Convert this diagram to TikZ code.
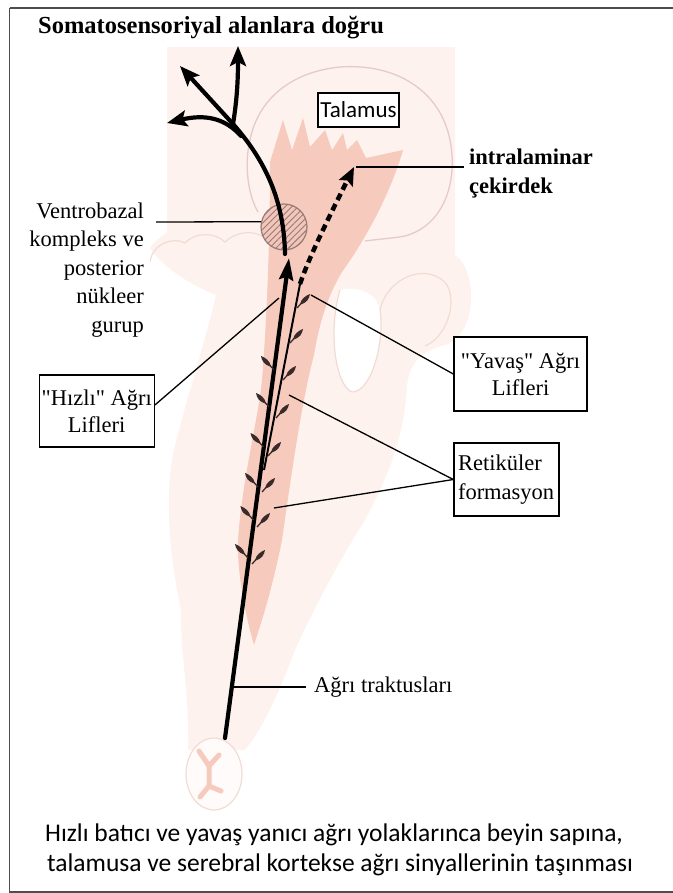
\documentclass[tikz,border=0pt]{standalone}
\usepackage{fontspec}
\setmainfont{Liberation Serif}[Ligatures=TeXOff]
\newfontfamily\calfont{Carlito}
\usetikzlibrary{arrows.meta,patterns.meta,calc}

\definecolor{stemc}{HTML}{FDF2ED}
\definecolor{tractc}{HTML}{F6CBBE}
\definecolor{rimc}{HTML}{E6CACA}
\definecolor{lobec}{HTML}{F1DCD4}
\definecolor{hatchc}{HTML}{9A7A75}
\definecolor{nucc}{HTML}{F2C6BA}
\definecolor{leafc}{HTML}{3A2A2A}
\definecolor{framec}{HTML}{4D4D4D}

\begin{document}
\begin{tikzpicture}[x=1pt,y=-1pt,
  lbl/.style={font=\fontsize{22.5}{28.5}\selectfont, inner sep=0pt},
  callbox/.style={draw=black, line width=1.4pt, fill=white, inner sep=0pt,
    font=\fontsize{22.5}{27}\selectfont},
  callout/.style={line width=1.3pt, black},
  fiber/.style={line width=4.2pt, black, line cap=round},
  bigtip/.style={-{Stealth[length=20pt,width=16pt,inset=4pt]}},
  rim/.style={draw=rimc, line width=1.3pt},
  captxt/.style={inner sep=0pt, anchor=west, font=\calfont\fontsize{25.5}{30}\selectfont}
]
\useasboundingbox (0,0) rectangle (672,893);

% ---------- brainstem silhouette ----------
\fill[stemc] (167,47) -- (455,47) -- (455,255)
  .. controls (478,270) and (478,335) .. (445,345)
  .. controls (425,350) and (410,360) .. (407,385)
  .. controls (405,430) and (392,470) .. (365,520)
  .. controls (340,560) and (318,600) .. (295,650)
  .. controls (280,690) and (265,725) .. (245,750)
  -- (188,750)
  .. controls (190,700) and (180,650) .. (181,610)
  .. controls (168,550) and (165,490) .. (174,450)
  .. controls (186,400) and (203,350) .. (216,295)
  .. controls (190,285) and (160,265) .. (150,248)
  .. controls (155,240) and (163,236) .. (167,232) -- cycle;

% gap between the peduncles
\fill[white] (340,290) .. controls (328,330) and (335,385) .. (352,392)
  .. controls (372,392) and (385,340) .. (380,310)
  .. controls (378,295) and (360,285) .. (340,290);
\draw[lobec, line width=1.2pt] (340,290) .. controls (328,330) and (335,385) .. (352,392)
  .. controls (372,392) and (385,340) .. (380,310);
\draw[lobec, line width=1.2pt] (380,310) .. controls (388,275) and (430,262) .. (447,285)
  .. controls (458,305) and (445,338) .. (425,346);
\draw[lobec, line width=1.2pt] (150,262) .. controls (152,245) and (172,236) .. (185,243)
  .. controls (195,232) and (215,232) .. (225,242)
  .. controls (235,232) and (252,230) .. (262,236);

% ---------- pain tract area ----------
\fill[tractc] (270,162) -- (283,120) -- (292,150) -- (303,118) -- (310,147)
  -- (325,130) -- (332,150) -- (343,133) -- (347,150) -- (357,140)
  -- (366,158) -- (403,150)
  .. controls (390,195) and (365,240) .. (342,272)
  .. controls (326,298) and (318,330) .. (314,355)
  .. controls (302,400) and (292,470) .. (282,540)
  .. controls (272,590) and (262,620) .. (254,645)
  .. controls (244,610) and (237,570) .. (238,540)
  .. controls (242,480) and (258,420) .. (262,380)
  .. controls (266,330) and (270,250) .. (270,162) -- cycle;

% thalamus outline
\draw[rim] (258,212) .. controls (248,195) and (244,165) .. (250,140)
  .. controls (258,100) and (290,72) .. (340,67)
  .. controls (395,63) and (440,90) .. (450,140)
  .. controls (458,180) and (445,225) .. (405,236)
  .. controls (395,238) and (380,239) .. (365,241);

% spinal cord cross-section
\fill[white!70!stemc] (214,774) ellipse [x radius=28, y radius=36];
\draw[lobec, line width=1.2pt] (214,774) ellipse [x radius=28, y radius=36];
\draw[tractc, line width=5pt, line cap=round, line join=round]
  (199,751) -- (209,766) -- (219,755)
  (209,766) -- (209,786) -- (200,797)
  (209,786) -- (221,791);

% ventrobasal complex
\node[circle, minimum size=46pt, inner sep=0pt, draw=hatchc, line width=1.2pt,
  preaction={fill=nucc},
  pattern={Lines[angle=45,distance=4.5pt,line width=0.9pt]}, pattern color=hatchc]
  (vb) at (284,227) {};

% ---------- fibres ----------
\coordinate (fbot) at (225,738);
\coordinate (ftop) at (289,258);
\coordinate (cstart) at (285,254);
\coordinate (junc) at (233,124);
\coordinate (sbot) at (264,470);
\coordinate (stop) at (300,284);
\coordinate (ilS) at (354,167);

% slow fibre and dashed projection
\draw[line width=2pt, black] (sbot) -- (stop);
\draw[line width=4.5pt, black, dash pattern=on 7pt off 4.5pt,
  -{Stealth[length=18pt,width=15pt,inset=3pt]}]
  (stop) .. controls (308,260) and (325,225) .. (ilS);

% fast fibre
\draw[fiber, -{Stealth[length=22pt,width=14pt,inset=3pt]}] (fbot) -- (ftop);
\draw[fiber] (cstart) .. controls (284,200) and (265,160) .. (junc);
\draw[fiber, bigtip] (junc) .. controls (237,100) and (238,80) .. (238,46);
\draw[fiber, bigtip] (junc) -- (180,66);
\draw[fiber, bigtip] (241,136) .. controls (225,118) and (205,114) .. (167,123);

% collateral branches to the reticular formation
\foreach \bx/\by/\s in {297/308/1, 290/343/1, 283/380/1, 276/418/1, 268/456/1,
    262/492/1, 257/527/1, 252/564/1, 274/370/-1, 269/407/-1, 263.5/447/-1,
    258/487/-1, 253.4/520/-1, 248/558/-1}{
  \begin{scope}[shift={(\bx,\by)}, xscale=\s]
    \draw[leafc, line width=1.3pt] (0,0) -- (9,-10);
    \fill[leafc] (3,-3.5) .. controls (10,-5) and (12,-9) .. (13,-14)
      .. controls (8,-12) and (4,-9) .. (3,-3.5);
  \end{scope}
}

% ---------- labels ----------
\node[lbl, font=\fontsize{24.5}{28}\selectfont\bfseries, anchor=west] (title) at (38,28)
  {Somatosensoriyal alanlara doğru};

\node[draw=black, line width=1.4pt, fill=white, inner sep=0pt, minimum width=81pt,
  minimum height=34pt, font=\calfont\fontsize{23}{26}\selectfont] (tal) at (358.5,110) {Talamus};

\node[lbl, font=\fontsize{22.5}{29}\selectfont\bfseries, align=left, anchor=west] (il)
  at (469,174) {intralaminar\\çekirdek};

\node[lbl, align=right, fill=white, inner sep=6pt, anchor=east] (vbl) at (150,270)
  {Ventrobazal\\kompleks ve\\posterior\\nükleer\\gurup};

\node[callbox, minimum width=115pt, minimum height=72pt, align=center] (hiz) at (96.7,411)
  {"Hızlı" Ağrı\\Lifleri};
\node[callbox, minimum width=133pt, minimum height=74pt, align=center] (yav) at (520.5,374)
  {"Yavaş" Ağrı\\Lifleri};
\node[callbox, minimum width=105pt, minimum height=73pt, text width=97pt, align=left,
  font=\fontsize{22.5}{29}\selectfont] (ret) at (506.5,479.5) {Retiküler\\formasyon};

\node[lbl, anchor=west] (agri) at (314,687) {Ağrı traktusları};

\node[captxt] (cap1) at (45,835)
  {Hızlı batıcı ve yavaş yanıcı ağrı yolaklarınca beyin sapına,};
\node[captxt] (cap2) at (47,865)
  {talamusa ve serebral kortekse ağrı sinyallerinin taşınması};

% ---------- pointer lines ----------
\coordinate (vbT) at (156,222);
\coordinate (hizT) at (279,298);
\coordinate (yavT) at (311,295);
\coordinate (retT1) at (289,395);
\coordinate (retT2) at (274,508);
\coordinate (agriT) at (233,687);

\draw[callout] (vbT) -- (vb.167);
\draw[callout] (ilS) ++(2,0) -- ([xshift=-5pt]il.west |- ilS);
\draw[callout] ([yshift=6pt]hiz.east) -- (hizT);
\draw[callout] (yav.west) -- (yavT);
\draw[callout] (ret.west) -- (retT1);
\draw[callout] (ret.west) -- (retT2);
\draw[callout] (agriT) -- ([xshift=-8pt]agri.west);

% ---------- frame ----------
\draw[framec, line width=1.6pt] (9.5,8) -- (680,8) (9.5,8) -- (9.5,892) -- (680,892);
\end{tikzpicture}
\end{document}
